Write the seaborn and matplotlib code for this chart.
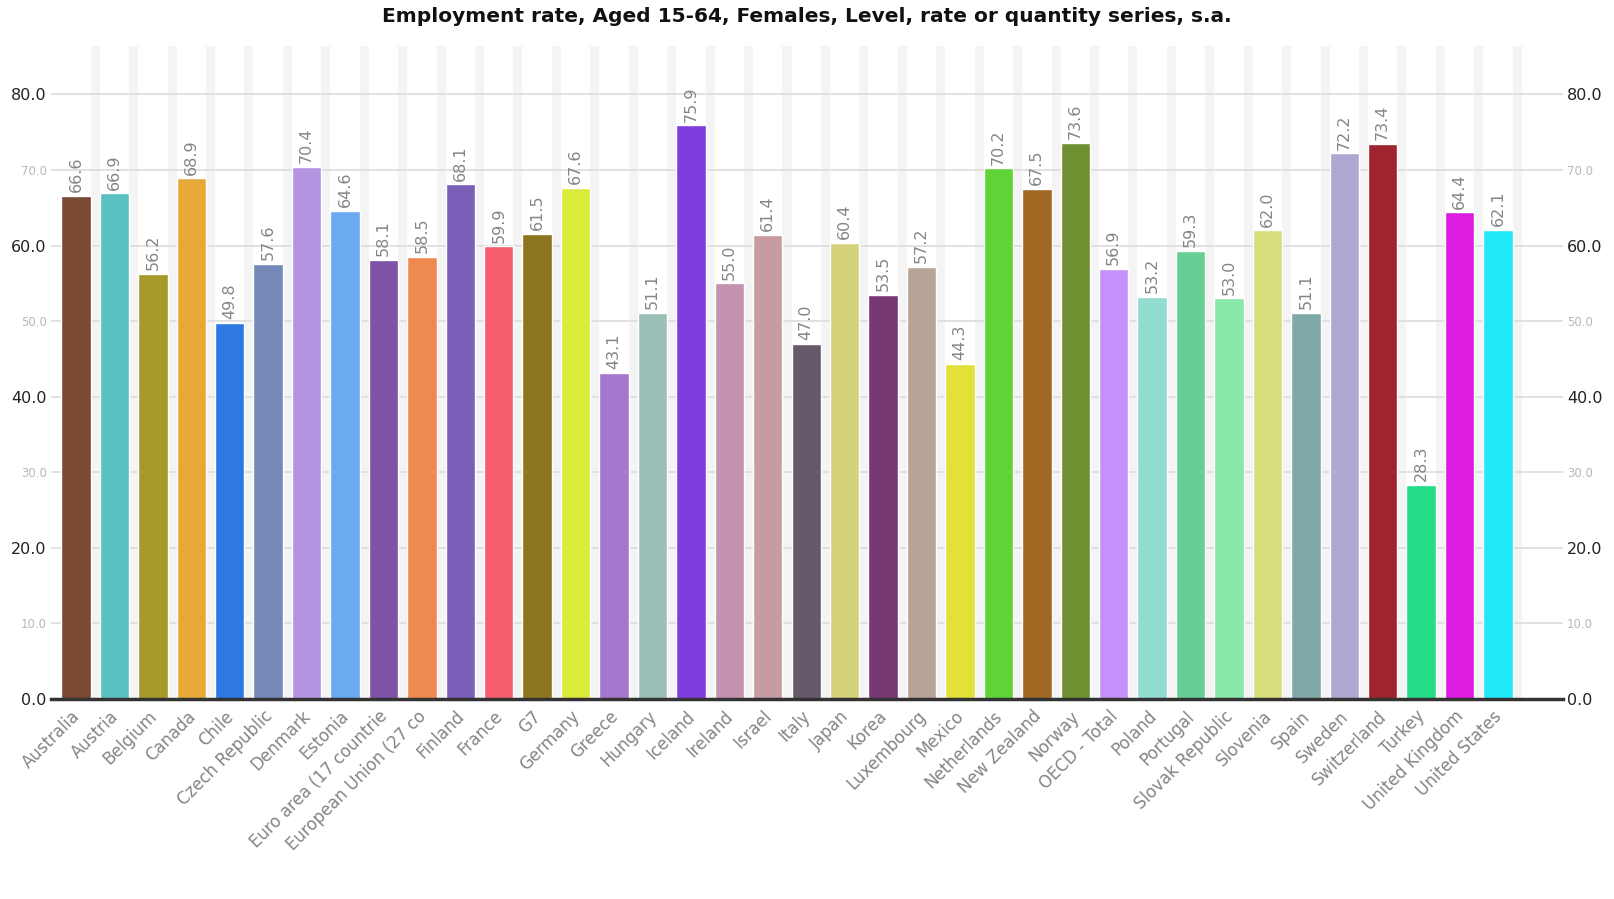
import matplotlib
matplotlib.use("Agg")
import matplotlib.pyplot as plt
import matplotlib.transforms as mtransforms
import seaborn as sns
import pandas as pd

# Data
countries = ["Australia", "Austria", "Belgium", "Canada", "Chile", "Czech Republic",
             "Denmark", "Estonia", "Euro area (17 countrie", "European Union (27 co",
             "Finland", "France", "G7", "Germany", "Greece", "Hungary", "Iceland",
             "Ireland", "Israel", "Italy", "Japan", "Korea", "Luxembourg", "Mexico",
             "Netherlands", "New Zealand", "Norway", "OECD - Total", "Poland",
             "Portugal", "Slovak Republic", "Slovenia", "Spain", "Sweden",
             "Switzerland", "Turkey", "United Kingdom", "United States"]
rates = [66.6, 66.9, 56.2, 68.9, 49.8, 57.6, 70.4, 64.6, 58.1, 58.5,
         68.1, 59.9, 61.5, 67.6, 43.1, 51.1, 75.9, 55.0, 61.4, 47.0,
         60.4, 53.5, 57.2, 44.3, 70.2, 67.5, 73.6, 56.9, 53.2, 59.3,
         53.0, 62.0, 51.1, 72.2, 73.4, 28.3, 64.4, 62.1]
bar_colors = ["#7a4a32", "#5bc2c2", "#a69a2a", "#e8a838", "#2e78e4", "#7589b8",
              "#b494e0", "#6aaaf0", "#7e52a4", "#ee8a50", "#7a5fb8", "#f55c6e",
              "#8e7520", "#dbeb3c", "#a478cc", "#9cc0b8", "#803cdc", "#c292ae",
              "#c89aa2", "#665a6a", "#d4d27a", "#783874", "#b8a496", "#e4e03a",
              "#5ed436", "#a06822", "#6e9030", "#c490fa", "#92dcd0", "#66d094",
              "#8ae8a8", "#d8de7c", "#80a8a8", "#b0a8d0", "#a02430", "#22dc88",
              "#dc1ce0", "#22e8f8"]
y_ticks = [0, 10, 20, 30, 40, 50, 60, 70, 80]

df = pd.DataFrame({"country": countries, "rate": rates})

sns.set_style("white")
plt.rcParams["font.family"] = ["DejaVu Sans"]

fig = plt.figure(figsize=(16.14, 8.99), dpi=100)
ax = fig.add_axes([0.0316, 0.2225, 0.9368, 0.7263])

bar_w = 0.765
sns.barplot(data=df, x="country", y="rate", hue="country", palette=bar_colors,
            legend=False, width=bar_w, saturation=1, ax=ax, zorder=3)

# light vertical stripes in the gaps between bars
for i in range(len(countries)):
    ax.axvspan(i + bar_w / 2, i + 1 - bar_w / 2, color="#f4f4f5", zorder=0, lw=0)

# horizontal grid
for t in y_ticks[1:]:
    ax.axhline(t, color="#dcdcdc", lw=1.2, zorder=1)

ax.set_xlim(-0.65, len(countries) + 0.69)
ax.set_ylim(0, 86.4)

# value labels above bars
for i, v in enumerate(rates):
    ax.text(i, v + 0.5, f"{v:.1f}", rotation=90, ha="center", va="bottom",
            fontsize=11.5, color="#858585", zorder=4)

fig.suptitle("Employment rate, Aged 15-64, Females, Level, rate or quantity series, s.a.",
             fontsize=14.5, fontweight="bold", color="#111111", y=0.982, va="center")
ax.set_xlabel("")
ax.set_ylabel("")

# x tick labels
ax.set_xticks(range(len(countries)))
ax.set_xticklabels(countries, rotation=45, ha="right", rotation_mode="anchor",
                   fontsize=12, color="#858585")
ax.tick_params(axis="x", length=0, pad=6)
shift = mtransforms.ScaledTranslation(-5 / 100, 0, fig.dpi_scale_trans)
for lab in ax.get_xticklabels():
    lab.set_transform(lab.get_transform() + shift)

# y ticks both sides, major/minor styling
ax.set_yticks(y_ticks)
ax.set_yticklabels([f"{t:.1f}" for t in y_ticks])
ax.tick_params(axis="y", length=0, pad=3, labelleft=True, labelright=True)
for t, tick in zip(y_ticks, ax.yaxis.get_major_ticks()):
    for lab in (tick.label1, tick.label2):
        if t % 20 == 0:
            lab.set_fontsize(11.5)
            lab.set_color("#222222")
        else:
            lab.set_fontsize(8.5)
            lab.set_color("#b8b8b8")

for s in ["top", "left", "right"]:
    ax.spines[s].set_visible(False)
ax.spines["bottom"].set_color("#333333")
ax.spines["bottom"].set_linewidth(2.5)
ax.spines["bottom"].set_zorder(5)

fig.savefig("out.png", dpi=100)
